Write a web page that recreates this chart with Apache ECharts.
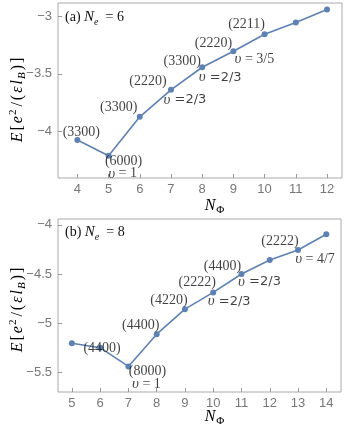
<!DOCTYPE html>
<html>
<head>
<meta charset="utf-8">
<script src="https://cdn.jsdelivr.net/npm/echarts@6/dist/echarts.min.js"></script>
<style>
  html, body { margin: 0; padding: 0; background: #fff; }
  #chart { width: 353px; height: 435px; }
</style>
</head>
<body>
<div id="chart"></div>
<script>
  // panel (a): N_e = 6
  const topNphi = [4, 5, 6, 7, 8, 9, 10, 11, 12];
  const topEnergy = [-4.072, -4.207, -3.871, -3.638, -3.443, -3.305, -3.158, -3.057, -2.945];
  const topState = ['(3300)', '(6000)', '(3300)', '(2220)', '(3300)', '(2220)', '(2211)', '', ''];
  const topFill = ['', ' = 1', '', ' =2/3', ' =2/3', ' = 3/5', '', '', ''];
  const topYTicks = [-4, -3.5, -3];

  // panel (b): N_e = 8
  const botNphi = [5, 6, 7, 8, 9, 10, 11, 12, 13, 14];
  const botEnergy = [-5.204, -5.249, -5.44, -5.112, -4.857, -4.687, -4.50, -4.357, -4.255, -4.095];
  const botState = ['', '(4400)', '(8000)', '(4400)', '(4220)', '(2222)', '(4400)', '', '(2222)', ''];
  const botFill = ['', '', ' = 1', '', '', ' =2/3', ' =2/3', '', ' = 4/7', ''];
  const botYTicks = [-5.5, -5, -4.5, -4];

  // label offsets (px) relative to the point
  const topStateOff = [[4, -8], [15, 6], [-21, -9], [-23, -8], [-20, -6], [-20, -8], [-18, -10]];
  const topFillOff = [null, [14, 18], null, [14, 10], [18, 10], [21, 8]];
  const botStateOff = [null, [2, 1], [19, 5], [-16, -9], [-16, -9], [-16, -10], [-19, -8], null, [-18, -9]];
  const botFillOff = [null, null, [18, 18], null, null, [16, 9], [18, 8], null, [17, 9]];

  const blue = '#5E81B5';
  const serif = 'Liberation Serif';
  const sans = 'Liberation Sans';

  const richStyles = {
    r: { fontFamily: serif, fontSize: 14, color: '#111', fontWeight: 'normal' },
    u: { fontFamily: serif, fontSize: 15, fontStyle: 'italic', color: '#111', fontWeight: 'normal' },
    g: { fontFamily: 'DejaVu Sans', fontSize: 13, color: '#111', fontWeight: 'normal' },
    i: { fontFamily: serif, fontSize: 15, fontStyle: 'italic', color: '#111', fontWeight: 'normal' },
    s: { fontFamily: serif, fontSize: 10, fontStyle: 'italic', color: '#111', fontWeight: 'normal', padding: [9, 0, 0, 0] }
  };

  // axis titles, letters a bit spread like the original
  const nameRich = {
    r: { fontFamily: serif, fontSize: 16, color: '#111', padding: [0, 1, 0, 1] },
    i: { fontFamily: serif, fontSize: 16, fontStyle: 'italic', color: '#111', padding: [0, 1, 0, 1] },
    s: { fontFamily: serif, fontSize: 11, fontStyle: 'italic', color: '#111', padding: [9, 1, 0, 0] },
    f: { fontFamily: serif, fontSize: 11, color: '#111', padding: [9, 0, 0, 0] },
    sp: { fontFamily: serif, fontSize: 11, color: '#111', padding: [0, 2, 9, 0] }
  };
  const yName = '{i|E}{r|[}{i|e}{sp|2}{r|/}{r|(}{i|ε}{i|l}{s|B}{r|)}{r|]}';
  const xName = '{i|N}{f|Φ}';

  function fillText(t) {
    // "=2/3" without a space is set in sans in the original
    return /^ =\d/.test(t) ? '{u|υ}{g|' + t + '}' : '{u|υ}{r|' + t + '}';
  }

  function annot(idx, xs, ys, texts, offs, isFill) {
    const data = [];
    xs.forEach((x, i) => {
      if (!texts[i]) return;
      data.push({
        value: [x, ys[i]],
        label: { offset: offs[i], formatter: isFill ? fillText(texts[i]) : '{r|' + texts[i] + '}' }
      });
    });
    return {
      type: 'scatter',
      xAxisIndex: idx,
      yAxisIndex: idx,
      symbolSize: 0.1,
      itemStyle: { color: 'rgba(0,0,0,0)' },
      silent: true,
      z: 5,
      label: { show: true, position: 'inside', align: 'center', verticalAlign: 'middle', rich: richStyles },
      data
    };
  }

  const minus = v => String(v).replace('-', '\u2212');

  function xAxis(idx, min, max, ticks) {
    return {
      type: 'value', gridIndex: idx, min, max,
      axisLine: { show: false },
      splitLine: { show: false },
      axisTick: { show: true, inside: true, length: 4, lineStyle: { color: '#999' }, customValues: ticks },
      axisLabel: { customValues: ticks, color: '#777', fontFamily: sans, fontSize: 13, margin: 5 }
    };
  }

  function yAxis(idx, min, max, ticks) {
    return {
      type: 'value', gridIndex: idx, min, max,
      axisLine: { show: false },
      splitLine: { show: false },
      axisTick: { show: true, inside: true, length: 4, lineStyle: { color: '#999' }, customValues: ticks },
      axisLabel: { customValues: ticks, color: '#777', fontFamily: sans, fontSize: 13, margin: 6, formatter: minus }
    };
  }

  function titleText(text, x, y, rotate) {
    return {
      type: 'text', x, y, rotation: rotate ? Math.PI / 2 : 0, silent: true,
      style: { text, rich: nameRich, align: 'center', verticalAlign: 'middle' }
    };
  }

  const chart = echarts.init(document.getElementById('chart'), null, { renderer: 'canvas' });

  const option = {
    animation: false,
    backgroundColor: '#fff',
    grid: [
      { left: 58, top: 3, width: 284, height: 175, outerBoundsMode: 'none', containLabel: false, show: true, borderColor: '#aaa', borderWidth: 1, backgroundColor: 'transparent' },
      { left: 58, top: 219, width: 283, height: 173, outerBoundsMode: 'none', containLabel: false, show: true, borderColor: '#aaa', borderWidth: 1, backgroundColor: 'transparent' }
    ],
    title: [
      { text: '{r|(a) }{i|N}{s|e}{r|  = 6}', left: 60, top: 3, textStyle: { fontWeight: 'normal', rich: richStyles } },
      { text: '{r|(b) }{i|N}{s|e}{r|  = 8}', left: 60, top: 218, textStyle: { fontWeight: 'normal', rich: richStyles } }
    ],
    graphic: [
      titleText(yName, 18, 100, true),
      titleText(yName, 18, 310, true),
      titleText(xName, 214, 206, false),
      titleText(xName, 214, 417, false)
    ],
    xAxis: [xAxis(0, 3.38, 12.48, topNphi), xAxis(1, 4.51, 14.52, botNphi)],
    yAxis: [yAxis(0, -4.4, -2.888, topYTicks), yAxis(1, -5.70, -3.94, botYTicks)],
    series: [
      {
        type: 'line', xAxisIndex: 0, yAxisIndex: 0,
        data: topNphi.map((x, i) => [x, topEnergy[i]]),
        symbol: 'circle', symbolSize: 6,
        itemStyle: { color: blue }, lineStyle: { color: blue, width: 1.6 }
      },
      {
        type: 'line', xAxisIndex: 1, yAxisIndex: 1,
        data: botNphi.map((x, i) => [x, botEnergy[i]]),
        symbol: 'circle', symbolSize: 6,
        itemStyle: { color: blue }, lineStyle: { color: blue, width: 1.6 }
      },
      annot(0, topNphi, topEnergy, topState, topStateOff, false),
      annot(0, topNphi, topEnergy, topFill, topFillOff, true),
      annot(1, botNphi, botEnergy, botState, botStateOff, false),
      annot(1, botNphi, botEnergy, botFill, botFillOff, true)
    ]
  };

  chart.setOption(option);
</script>
</body>
</html>
